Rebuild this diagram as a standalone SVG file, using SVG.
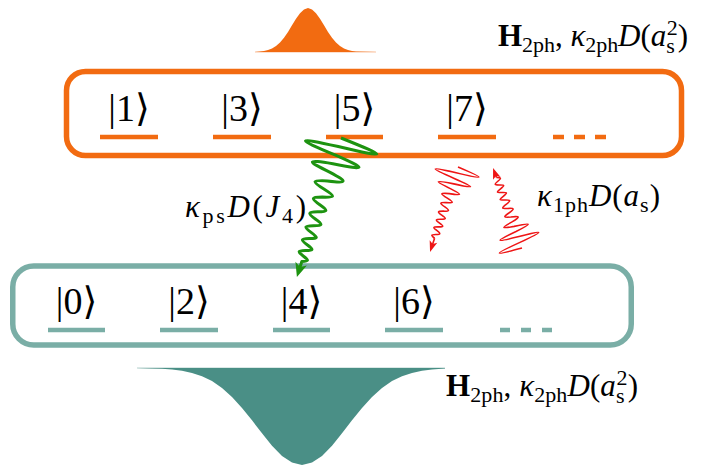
<svg xmlns="http://www.w3.org/2000/svg" width="702" height="466" viewBox="0 0 702 466">
<style>
.lab{font-family:"Liberation Serif","DejaVu Serif",serif;font-size:31px;fill:#000}
.sub{font-size:22px}
.it{font-style:italic}
.bf{font-weight:bold}
.ket{font-family:"Liberation Serif","DejaVu Serif","DejaVu Sans",serif;font-size:38px;text-anchor:middle;fill:#000}
.olev{stroke:#F26B11;stroke-width:4.5;fill:none}
.tlev{stroke:#7AAEA6;stroke-width:4.5;fill:none}
.wg{fill:none;stroke:#1d9310;stroke-width:3;stroke-linejoin:round}
.wr{fill:none;stroke:#ee1515;stroke-width:1.6;stroke-linejoin:round}
</style>
<defs>
<marker id="ag" markerUnits="userSpaceOnUse" markerWidth="16" markerHeight="14" refX="5" refY="6" orient="auto" overflow="visible"><path d="M0,0 L14,6 L0,12 L3.5,6 Z" fill="#1d9310"/></marker>
<marker id="ar" markerUnits="userSpaceOnUse" markerWidth="12" markerHeight="10" refX="3" refY="4" orient="auto" overflow="visible"><path d="M0,0 L11,4 L0,8 L2.5,4 Z" fill="#ee1515"/></marker>
<path id="redwave" d="M0,0 C2.55,-30.67 3.45,-30.67 6,0 C8.55,28 9.45,28 12,0 C14.33,-24 15.17,-24 17.5,0 C19.83,18.67 20.67,18.67 23,0 C25.12,-13.33 25.88,-13.33 28,0 C30.12,9.33 30.88,9.33 33,0 C34.91,-7.33 35.59,-7.33 37.5,0 C39.41,6.67 40.09,6.67 42,0 C43.91,-6 44.59,-6 46.5,0 C48.41,6 49.09,6 51,0 C52.7,-5.33 53.3,-5.33 55,0 C56.7,5.33 57.3,5.33 59,0 C60.7,-5.33 61.3,-5.33 63,0 C64.7,5.33 65.3,5.33 67,0 C68.7,-4.67 69.3,-4.67 71,0 C72.7,4.67 73.3,4.67 75,0"/>
</defs>
<rect width="702" height="466" fill="#fff"/>

<g id="gauss-top">
<path d="M255,52 L260,51.5 L264,51 L268,50.1 L272,48.5 L276,46 L280,42.5 L284,37.7 L288,31.9 L292,25.3 L296,18.8 L300,13.2 L304,9.4 L308,8 L312,9.4 L316,13.2 L320,18.8 L324,25.3 L328,31.9 L332,37.7 L336,42.5 L340,46 L344,48.5 L348,50.1 L352,51 L356,51.5 L376,52 Z" fill="#F26B11"/>
<line x1="255" y1="52" x2="376" y2="52" stroke="#F26B11" stroke-width="0.8" opacity="0.5"/>
</g>
<g id="gauss-bottom">
<path d="M137,368 L152,368.4 L162,368.8 L172,369.5 L182,370.8 L192,372.9 L202,376.2 L212,381.1 L222,388 L232,396.9 L242,407.9 L252,420.3 L262,433.3 L272,445.7 L282,455.9 L292,462.6 L302,465 L312,462.6 L322,455.9 L332,445.7 L342,433.3 L352,420.3 L362,407.9 L372,396.9 L382,388 L392,381.1 L402,376.2 L412,372.9 L422,370.8 L432,369.5 L445,368.5 L445,368 Z" fill="#4A8F86"/>
<line x1="137" y1="368" x2="445" y2="368" stroke="#4A8F86" stroke-width="0.8" opacity="0.5"/>
</g>

<g id="odd-manifold">
<rect x="66.5" y="71.5" width="615" height="84" rx="19" fill="none" stroke="#F26B11" stroke-width="5.5"/>
<g id="ket1"><text class="ket" x="129" y="121">|1⟩</text><line class="olev" x1="100" y1="137" x2="158" y2="137"/></g>
<g id="ket3"><text class="ket" x="242" y="121">|3⟩</text><line class="olev" x1="213" y1="137" x2="271" y2="137"/></g>
<g id="ket5"><text class="ket" x="354.5" y="121">|5⟩</text><line class="olev" x1="326" y1="137" x2="383" y2="137"/></g>
<g id="ket7"><text class="ket" x="467" y="121">|7⟩</text><line class="olev" x1="438" y1="137" x2="496" y2="137"/></g>
<line class="olev" x1="553" y1="137" x2="606" y2="137" stroke-dasharray="11 10"/>
</g>

<g id="even-manifold">
<rect x="12.75" y="266" width="618.5" height="79" rx="21" fill="none" stroke="#7AAEA6" stroke-width="5.5"/>
<g id="ket0"><text class="ket" x="76.5" y="314">|0⟩</text><line class="tlev" x1="48" y1="330" x2="105" y2="330"/></g>
<g id="ket2"><text class="ket" x="189" y="314">|2⟩</text><line class="tlev" x1="160" y1="330" x2="218" y2="330"/></g>
<g id="ket4"><text class="ket" x="301.5" y="314">|4⟩</text><line class="tlev" x1="273" y1="330" x2="330" y2="330"/></g>
<g id="ket6"><text class="ket" x="414" y="314">|6⟩</text><line class="tlev" x1="385" y1="330" x2="443" y2="330"/></g>
<line class="tlev" x1="500" y1="330" x2="552" y2="330" stroke-dasharray="10 11"/>
</g>

<g id="connectors">
<g transform="translate(341,138) rotate(107.6)">
<path class="wg" marker-end="url(#ag)" d="M0,0 C3.82,-52 5.18,-52 9,0 C12.82,44 14.18,44 18,0 C21.82,-34.67 23.18,-34.67 27,0 C30.82,26.67 32.18,26.67 36,0 C39.82,-20 41.18,-20 45,0 C48.82,15.33 50.18,15.33 54,0 C57.4,-12.67 58.6,-12.67 62,0 C65.4,10.67 66.6,10.67 70,0 C73.18,-10 74.32,-10 77.5,0 C80.68,9.33 81.82,9.33 85,0 C87.97,-9.33 89.03,-9.33 92,0 C94.97,8.67 96.03,8.67 99,0 C101.76,-8.67 102.74,-8.67 105.5,0 C108.26,8 109.24,8 112,0 C114.55,-8 115.45,-8 118,0 C120.55,7.33 121.45,7.33 124,0 C126.33,-6.67 127.17,-6.67 129.5,0 L136.8,0"/>
</g>
<g transform="translate(458,167) rotate(108.2)">
<use href="#redwave" class="wr"/>
<path class="wr" marker-end="url(#ar)" d="M75,0 L81.5,0"/>
</g>
<g transform="translate(522,248) rotate(-109.9)">
<use href="#redwave" class="wr"/>
<path class="wr" marker-end="url(#ar)" d="M75,0 L77,0"/>
</g>
</g>

<g id="labels">
<text class="lab" x="498" y="46" textLength="190"><tspan class="bf">H</tspan><tspan class="sub" dy="6">2ph</tspan><tspan dy="-6">, </tspan><tspan class="it">κ</tspan><tspan class="sub" dy="6">2ph</tspan><tspan class="it" dy="-6">D</tspan>(<tspan class="it">a</tspan><tspan class="sub" dy="7">s</tspan><tspan class="sub" dx="-8" dy="-18">2</tspan><tspan dy="11">)</tspan></text>
<text class="lab" x="446" y="396" textLength="192"><tspan class="bf">H</tspan><tspan class="sub" dy="6">2ph</tspan><tspan dy="-6">, </tspan><tspan class="it">κ</tspan><tspan class="sub" dy="6">2ph</tspan><tspan class="it" dy="-6">D</tspan>(<tspan class="it">a</tspan><tspan class="sub" dy="7">s</tspan><tspan class="sub" dx="-8" dy="-18">2</tspan><tspan dy="11">)</tspan></text>
<text class="lab" x="537" y="206" textLength="123"><tspan class="it">κ</tspan><tspan class="sub" dy="6">1ph</tspan><tspan class="it" dy="-6">D</tspan>(<tspan class="it">a</tspan><tspan class="sub" dy="6">s</tspan><tspan dy="-6">)</tspan></text>
<text class="lab" x="185" y="217" textLength="121"><tspan class="it">κ</tspan><tspan class="sub" dy="6">ps</tspan><tspan class="it" dy="-6">D</tspan>(<tspan class="it">J</tspan><tspan class="sub" dy="6">4</tspan><tspan dy="-6">)</tspan></text>
</g>
</svg>
